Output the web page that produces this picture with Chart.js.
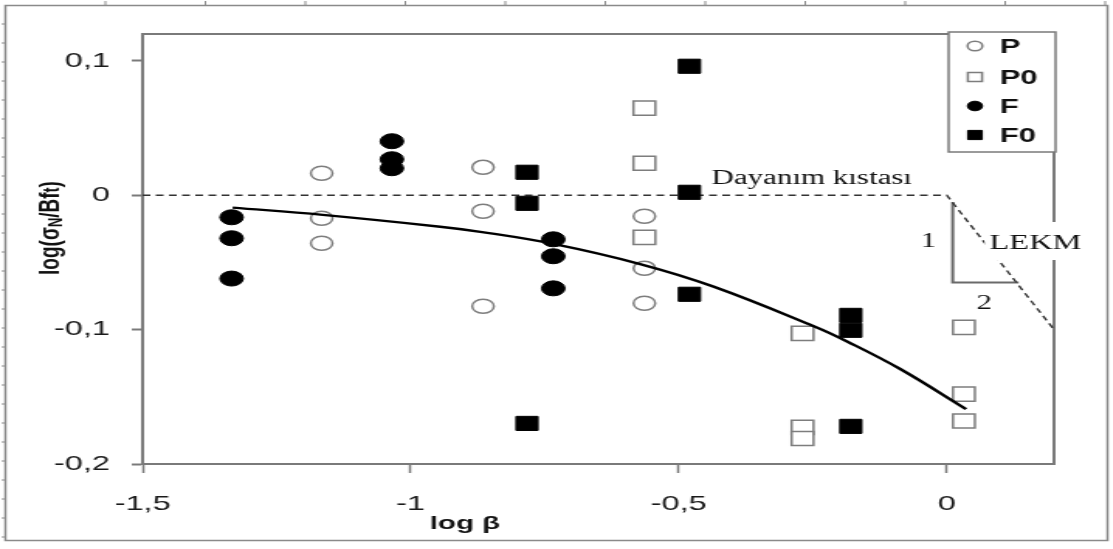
<!DOCTYPE html>
<html>
<head>
<meta charset="utf-8">
<script src="https://cdn.jsdelivr.net/npm/chart.js@4.4.0/dist/chart.umd.min.js"></script>
<style>
html,body{margin:0;padding:0;background:#fff;overflow:hidden}
#wrap{width:1113px;height:549px;overflow:hidden}
/* the original figure is stretched sideways, so the canvas is too */
#c{transform:scaleX(1.55);transform-origin:0 0;display:block}
</style>
</head>
<body>
<div id="wrap"><canvas id="c" width="718" height="549"></canvas></div>
<script>
const xTicks = [-1.5, -1, -0.5, 0];
const xTickLabels = ["-1,5", "-1", "-0,5", "0"];
const yTicks = [0.1, 0, -0.1, -0.2];
const yTickLabels = ["0,1", "0", "-0,1", "-0,2"];

const seriesNames = ["P", "P0", "F", "F0"];

const pX = [-1.166, -1.166, -1.166, -0.865, -0.865, -0.865, -0.564, -0.564, -0.564];
const pY = [0.0164, -0.0171, -0.0357, 0.0208, -0.0119, -0.0826, -0.0156, -0.0544, -0.0804];

const p0X = [-0.564, -0.564, -0.564, -0.269, -0.269, -0.269, 0.032, 0.032, 0.032];
const p0Y = [0.0648, 0.0238, -0.0313, -0.1028, -0.1727, -0.181, -0.0983, -0.148, -0.168];

const fX = [-1.334, -1.334, -1.334, -1.035, -1.035, -1.035, -0.734, -0.734, -0.734];
const fY = [-0.0164, -0.032, -0.062, 0.0402, 0.0268, 0.0201, -0.0328, -0.0454, -0.0693];

const f0X = [-0.783, -0.783, -0.783, -0.48, -0.48, -0.48, -0.179, -0.179, -0.179];
const f0Y = [0.0171, -0.006, -0.1698, 0.096, 0.0022, -0.0737, -0.0894, -0.1005, -0.172];

// fitted curve
const curveX = [-1.332, -1.164, -0.945, -0.87, -0.734, -0.572, -0.435, -0.248, -0.185, -0.086, 0.036];
const curveY = [-0.0092, -0.0146, -0.0234, -0.0272, -0.0362, -0.0512, -0.068, -0.0975, -0.109, -0.1295, -0.1592];

// strength criterion + LEKM asymptote, and the 1:2 slope triangle
const critX = [-1.5, 0, 0.2];
const critY = [0, 0, -0.1];
const triX = [0.011, 0.011, 0.134];
const triY = [-0.005, -0.065, -0.065];

const pts = (xs, ys) => xs.map((x, i) => ({x: x, y: ys[i]}));

const extras = {
  id: "extras",
  beforeDatasetsDraw(chart) {
    const {ctx, chartArea: a} = chart;
    ctx.save();
    ctx.strokeStyle = "#7a7a7a";
    ctx.lineWidth = 2;
    ctx.strokeRect(a.left, a.top, a.right - a.left, a.bottom - a.top);
    ctx.restore();
  },
  afterDraw(chart) {
    const {ctx, chartArea: a} = chart;
    ctx.save();

    // outer frame
    ctx.strokeStyle = "#8a8a8a";
    ctx.lineWidth = 1.5;
    ctx.strokeRect(3.5, 5.5, 711, 535);
    ctx.lineWidth = 1;
    ctx.beginPath();
    for (let x = 3.5 + 64.5; x < 714; x += 64.5) { ctx.moveTo(x, 5); ctx.lineTo(x, 1); }
    for (let y = 24; y < 540; y += 19) { ctx.moveTo(3, y); ctx.lineTo(1, y); }
    ctx.stroke();

    // labels on the chart
    ctx.fillStyle = "#111";
    ctx.font = "20px 'Liberation Serif', 'Times New Roman', serif";
    ctx.textBaseline = "alphabetic";
    ctx.textAlign = "left";
    ctx.fillText("Dayanım kıstası", 459, 184);

    ctx.textAlign = "center";
    ctx.textBaseline = "middle";
    ctx.fillText("1", 599, 242);
    ctx.fillText("2", 635, 304);

    ctx.font = "21px 'Liberation Serif', 'Times New Roman', serif";
    const lw = ctx.measureText("LEKM").width;
    ctx.fillStyle = "#fff";
    ctx.fillRect(668 - lw / 2 - 3, 222, lw + 6, 38);
    ctx.fillStyle = "#111";
    ctx.fillText("LEKM", 668, 243);

    // axis titles
    ctx.font = "bold 19px 'Liberation Sans', Arial, sans-serif";
    ctx.fillText("log β", 300, 524);

    ctx.translate(33, 228);
    ctx.rotate(-Math.PI / 2);
    const parts = [["log(σ", 19, 0], ["N", 13, 3], ["/Bf", 19, 0], ["t", 15, 1], [")", 19, 0]];
    let total = 0;
    parts.forEach(p => { ctx.font = "bold " + p[1] + "px 'Liberation Sans', Arial, sans-serif"; total += ctx.measureText(p[0]).width; });
    let cx = -total / 2;
    ctx.textAlign = "left";
    parts.forEach(p => {
      ctx.font = "bold " + p[1] + "px 'Liberation Sans', Arial, sans-serif";
      ctx.fillText(p[0], cx, p[2]);
      cx += ctx.measureText(p[0]).width;
    });
    ctx.setTransform(1, 0, 0, 1, 0, 0);

    // legend box
    const lx = 612, ly = 32, lwid = a.right + 1 - 612, lh = 120;
    ctx.fillStyle = "#fff";
    ctx.fillRect(lx, ly, lwid, lh);
    ctx.strokeStyle = "#7a7a7a";
    ctx.lineWidth = 1.5;
    ctx.strokeRect(lx, ly, lwid, lh);
    const rows = [46, 77, 106, 135];
    ctx.font = "bold 20px 'Liberation Sans', Arial, sans-serif";
    ctx.textAlign = "left";
    ctx.textBaseline = "middle";
    seriesNames.forEach((name, i) => {
      const ds = chart.data.datasets[i];
      ctx.fillStyle = ds.backgroundColor;
      ctx.strokeStyle = ds.borderColor;
      ctx.lineWidth = ds.borderWidth;
      Chart.helpers.drawPoint(ctx, {pointStyle: ds.pointStyle, radius: ds.pointStyle === "rect" ? 6.5 : 4.8, borderWidth: ds.borderWidth}, 629, rows[i]);
      ctx.fillStyle = "#111";
      ctx.fillText(name, 645, rows[i] + 1);
    });
    ctx.restore();
  }
};

new Chart(document.getElementById("c"), {
  type: "scatter",
  data: {
    datasets: [
      {label: seriesNames[0], data: pts(pX, pY), pointStyle: "circle", pointRadius: 7,
       backgroundColor: "#fff", borderColor: "#7d7d7d", borderWidth: 1.5, order: 2},
      {label: seriesNames[1], data: pts(p0X, p0Y), pointStyle: "rect", pointRadius: 10,
       backgroundColor: "#fff", borderColor: "#7d7d7d", borderWidth: 1.5, order: 2},
      {label: seriesNames[2], data: pts(fX, fY), pointStyle: "circle", pointRadius: 7.5,
       backgroundColor: "#000", borderColor: "#000", borderWidth: 1, order: 2},
      {label: seriesNames[3], data: pts(f0X, f0Y), pointStyle: "rect", pointRadius: 10,
       backgroundColor: "#000", borderColor: "#000", borderWidth: 1, order: 2},
      {label: "curve", data: pts(curveX, curveY), showLine: true, pointRadius: 0,
       borderColor: "#000", borderWidth: 2.4, tension: 0.4, order: 1},
      {label: "criterion", data: pts(critX, critY), showLine: true, pointRadius: 0,
       borderColor: "#333", borderWidth: 1.4, borderDash: [5, 3.5], order: 3},
      {label: "slope", data: pts(triX, triY), showLine: true, pointRadius: 0,
       borderColor: "#6a6a6a", borderWidth: 2, order: 3}
    ]
  },
  options: {
    responsive: false,
    animation: false,
    devicePixelRatio: 1,
    layout: {padding: {top: 34, right: 38, bottom: 0, left: 0}},
    plugins: {legend: {display: false}, tooltip: {enabled: false}},
    scales: {
      x: {
        type: "linear", min: -1.5, max: 0.2,
        afterBuildTicks: s => { s.ticks = xTicks.map(v => ({value: v})); },
        afterFit: s => { s.height = 85; },
        ticks: {
          callback: v => xTickLabels[xTicks.indexOf(v)],
          font: {family: "'Liberation Sans', Arial, sans-serif", size: 21},
          color: "#1a1a1a", padding: 19, maxRotation: 0, autoSkip: false
        },
        grid: {drawOnChartArea: false, tickLength: 9, tickColor: "#7a7a7a", tickWidth: 1.5},
        border: {color: "#7a7a7a", width: 2}
      },
      y: {
        type: "linear", min: -0.2, max: 0.12,
        afterBuildTicks: s => { s.ticks = yTicks.map(v => ({value: v})); },
        afterFit: s => { s.width = 92; },
        ticks: {
          callback: v => yTickLabels[yTicks.indexOf(v)],
          font: {family: "'Liberation Sans', Arial, sans-serif", size: 21},
          color: "#1a1a1a", padding: 14
        },
        grid: {drawOnChartArea: false, tickLength: 7, tickColor: "#7a7a7a", tickWidth: 2},
        border: {color: "#7a7a7a", width: 2}
      }
    }
  },
  plugins: [extras]
});
</script>
</body>
</html>
